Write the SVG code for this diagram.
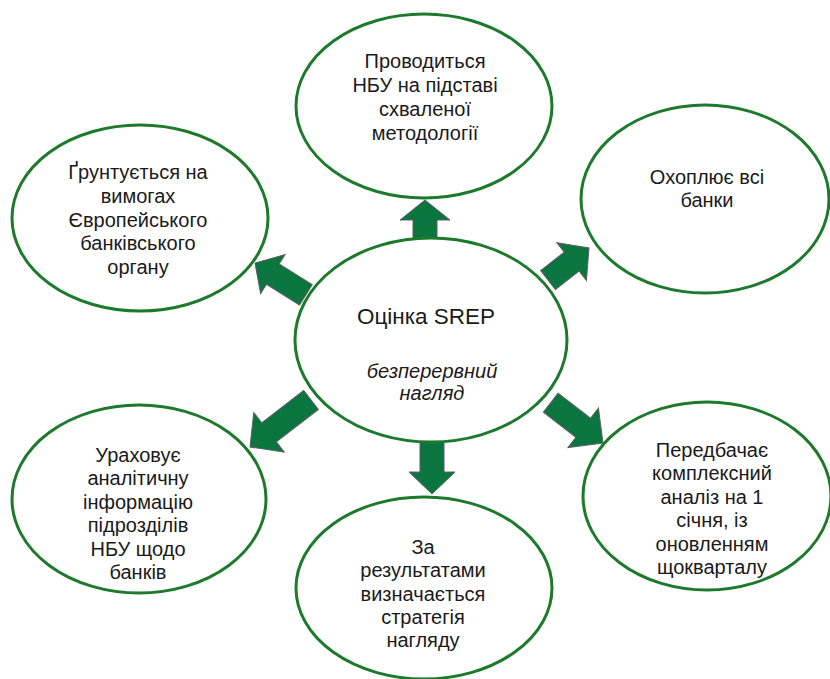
<svg xmlns="http://www.w3.org/2000/svg" width="830" height="679" viewBox="0 0 830 679">
<style>
.bg{fill:#ffffff}
.node{fill:#ffffff;stroke:#1d7a2c;stroke-width:3}
.arrow{fill:#0b7540;stroke:#5f5f5f;stroke-width:1}
.t{font-family:"Liberation Sans",Arial,sans-serif;font-size:20px;fill:#1a1a1a;text-anchor:middle}
.main{font-size:22.5px}
.it{font-style:italic}
</style>
<rect class="bg" x="0" y="0" width="830" height="679"/>
<g id="connectors">
<polygon class="arrow" transform="translate(425,200) rotate(-90)" points="-42,-12 -20,-12 -20,-25 0,0 -20,25 -20,12 -42,12"/>
<polygon class="arrow" transform="translate(432,494) rotate(90)" points="-52,-12 -22,-12 -22,-23 0,0 -22,23 -22,12 -52,12"/>
<polygon class="arrow" transform="translate(255,263) rotate(212)" points="-60,-12 -21,-12 -21,-23 0,0 -21,23 -21,12 -60,12"/>
<polygon class="arrow" transform="translate(589,248) rotate(-38)" points="-52,-12 -22,-12 -22,-24 0,0 -22,24 -22,12 -52,12"/>
<polygon class="arrow" transform="translate(250,447) rotate(142.4)" points="-77,-12 -24,-12 -24,-25 0,0 -24,25 -24,12 -77,12"/>
<polygon class="arrow" transform="translate(603,443) rotate(37.6)" points="-66,-12 -25,-12 -25,-25 0,0 -25,25 -25,12 -66,12"/>
</g>
<g id="center">
<ellipse class="node" cx="431" cy="340" rx="136" ry="102"/>
<text class="t main" x="426" y="324">Оцінка SREP</text>
<text class="t it" x="432" y="378">безперервний</text>
<text class="t it" x="432" y="400">нагляд</text>
</g>
<g id="node-top">
<ellipse class="node" cx="424" cy="106" rx="128" ry="92"/>
<text class="t" x="425" y="68">Проводиться</text>
<text class="t" x="425" y="92">НБУ на підставі</text>
<text class="t" x="425" y="116">схваленої</text>
<text class="t" x="425" y="140">методології</text>
</g>
<g id="node-top-left">
<ellipse class="node" cx="140" cy="218" rx="128" ry="93"/>
<text class="t" x="138" y="179">Ґрунтується на</text>
<text class="t" x="138" y="203">вимогах</text>
<text class="t" x="138" y="227">Європейського</text>
<text class="t" x="138" y="250">банківського</text>
<text class="t" x="138" y="274">органу</text>
</g>
<g id="node-top-right">
<ellipse class="node" cx="705" cy="199" rx="124" ry="94"/>
<text class="t" x="707" y="184">Охоплює всі</text>
<text class="t" x="707" y="207">банки</text>
</g>
<g id="node-bottom-right">
<ellipse class="node" cx="707" cy="496" rx="124" ry="94"/>
<text class="t" x="712" y="457">Передбачає</text>
<text class="t" x="712" y="480">комплексний</text>
<text class="t" x="712" y="504">аналіз на 1</text>
<text class="t" x="712" y="527">січня, із</text>
<text class="t" x="712" y="551">оновленням</text>
<text class="t" x="712" y="574">щокварталу</text>
</g>
<g id="node-bottom">
<ellipse class="node" cx="424" cy="588" rx="128" ry="91"/>
<text class="t" x="423" y="554">За</text>
<text class="t" x="423" y="577">результатами</text>
<text class="t" x="423" y="601">визначається</text>
<text class="t" x="423" y="624">стратегія</text>
<text class="t" x="423" y="647">нагляду</text>
</g>
<g id="node-bottom-left">
<ellipse class="node" cx="139" cy="499" rx="127" ry="94"/>
<text class="t" x="138" y="462">Ураховує</text>
<text class="t" x="138" y="485">аналітичну</text>
<text class="t" x="138" y="509">інформацію</text>
<text class="t" x="138" y="532">підрозділів</text>
<text class="t" x="138" y="556">НБУ щодо</text>
<text class="t" x="138" y="579">банків</text>
</g>
</svg>
